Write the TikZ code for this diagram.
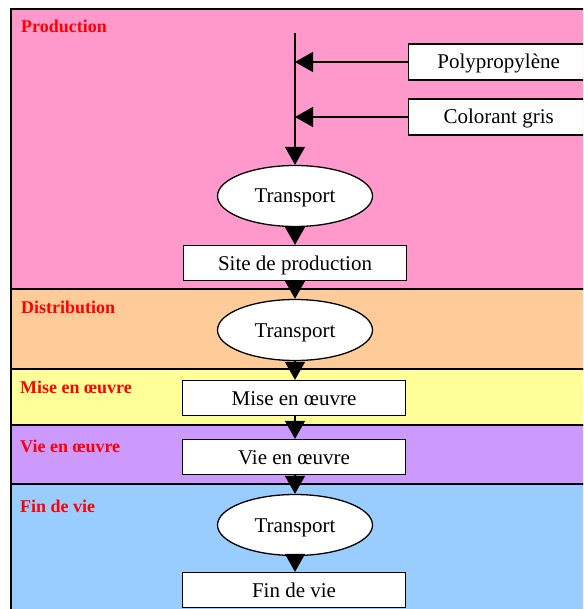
\documentclass[tikz,border=0pt]{standalone}
\usepackage{fontspec}
\setmainfont{Liberation Serif}
\usetikzlibrary{shapes.geometric,arrows.meta}
\definecolor{cprod}{HTML}{FF99CC}
\definecolor{cdist}{HTML}{FFCC99}
\definecolor{cmise}{HTML}{FFFF99}
\definecolor{cvie}{HTML}{CC99FF}
\definecolor{cfin}{HTML}{99CCFF}
\definecolor{clab}{HTML}{FF0000}
\tikzset{
  band/.style={draw=black, line width=1.8pt},
  bandlabel/.style={anchor=base west, text=clab, font=\fontsize{18}{20}\selectfont\bfseries, inner sep=0pt},
  ntext/.style={font=\fontsize{21}{23}\selectfont, text height=14pt, text depth=0pt},
  stagebox/.style={ntext, draw=black, fill=white, line width=1.3pt, rectangle, minimum width=223pt, minimum height=35pt, inner sep=0pt},
  inbox/.style={ntext, draw=black, fill=white, line width=1.3pt, rectangle, minimum width=180pt, minimum height=36pt, inner sep=0pt},
  transp/.style={ntext, draw=black, fill=white, line width=1.3pt, ellipse, minimum width=155pt, minimum height=61pt, inner sep=0pt},
  flow/.style={line width=1.4pt, -{Triangle[length=18pt,width=20pt]}},
}
\begin{document}
\begin{tikzpicture}[x=1pt,y=-1pt]
\clip (0,0) rectangle (583,609);
% bands
\fill[white] (0,0) rectangle (583,609);
\filldraw[band, fill=cprod] (11,9) rectangle (600,289);
\filldraw[band, fill=cdist] (11,289) rectangle (600,369);
\filldraw[band, fill=cmise] (11,369) rectangle (600,425);
\filldraw[band, fill=cvie] (11,425) rectangle (600,484);
\filldraw[band, fill=cfin] (11,484) rectangle (600,620);
% labels
\node[bandlabel] (lprod) at (21,33) {Production};
\node[bandlabel] (ldist) at (21,313) {Distribution};
\node[bandlabel] (lmise) at (20,393) {Mise en œuvre};
\node[bandlabel] (lvie) at (20,452) {Vie en œuvre};
\node[bandlabel] (lfin) at (20,512) {Fin de vie};
% nodes
\coordinate (start) at (295,33);
\coordinate (j1) at (295,62);
\coordinate (j2) at (295,117);
\node[inbox, anchor=west] (poly) at (408,62) {Polypropylène};
\node[inbox, anchor=west] (col) at (408,117) {Colorant gris};
\node[transp] (t1) at (295,196) {Transport};
\node[stagebox] (site) at (295,263) {Site de production};
\node[transp] (t2) at (295,330) {Transport};
\node[stagebox] (mise) at (294,398) {Mise en œuvre};
\node[stagebox] (vie) at (294,457) {Vie en œuvre};
\node[transp] (t3) at (295,525) {Transport};
\node[stagebox] (fin) at (294,590) {Fin de vie};
% connectors
\draw[flow] (start) -- (t1.north);
\draw[flow] (poly.west) -- (j1);
\draw[flow] (col.west) -- (j2);
\draw[flow] (t1.south) -- (site.north -| t1.south);
\draw[flow] (site.south -| t2.north) -- (t2.north);
\draw[flow] (t2.south) -- (mise.north -| t2.south);
\draw[flow] (mise.south -| t2.south) -- (vie.north -| t2.south);
\draw[flow] (vie.south -| t3.north) -- (t3.north);
\draw[flow] (t3.south) -- (fin.north -| t3.south);
\end{tikzpicture}
\end{document}
